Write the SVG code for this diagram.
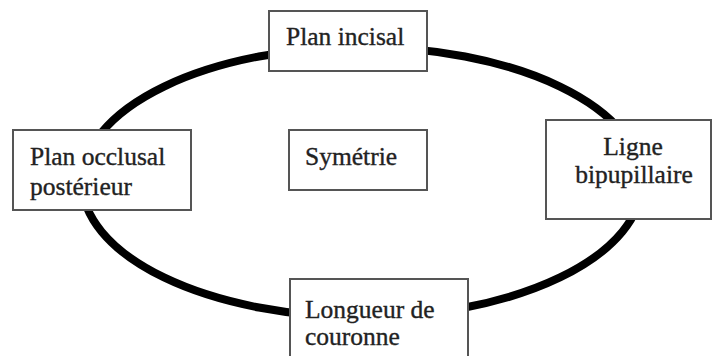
<svg xmlns="http://www.w3.org/2000/svg" width="714" height="356" viewBox="0 0 714 356">
<style>
.box{fill:#fff;stroke:#555;stroke-width:2}
.t{font-family:"Liberation Serif","Times New Roman",serif;font-size:25.5px;fill:#222;stroke:#222;stroke-width:0.35}
.ring{fill:none;stroke:#000;stroke-width:8}
</style>
<rect width="714" height="356" fill="#fff"/>
<g id="connectors">
<ellipse class="ring" cx="362" cy="182" rx="280" ry="135"/>
</g>
<g id="plan-incisal">
<rect class="box" x="269" y="11" width="158" height="60"/>
<text class="t" x="286" y="45">Plan incisal</text>
</g>
<g id="plan-occlusal">
<rect class="box" x="13" y="130" width="178" height="80"/>
<text class="t" x="30" y="165">Plan occlusal</text>
<text class="t" x="30" y="195">postérieur</text>
</g>
<g id="symetrie">
<rect class="box" x="289" y="130" width="138" height="60"/>
<text class="t" x="305" y="165">Symétrie</text>
</g>
<g id="ligne-bipupillaire">
<rect class="box" x="546" y="120" width="165" height="99"/>
<text class="t" x="633" y="155" text-anchor="middle">Ligne</text>
<text class="t" x="634" y="183" text-anchor="middle">bipupillaire</text>
</g>
<g id="longueur-couronne">
<rect class="box" x="290" y="279" width="178" height="90"/>
<text class="t" x="305" y="318">Longueur de</text>
<text class="t" x="305" y="345">couronne</text>
</g>
</svg>
